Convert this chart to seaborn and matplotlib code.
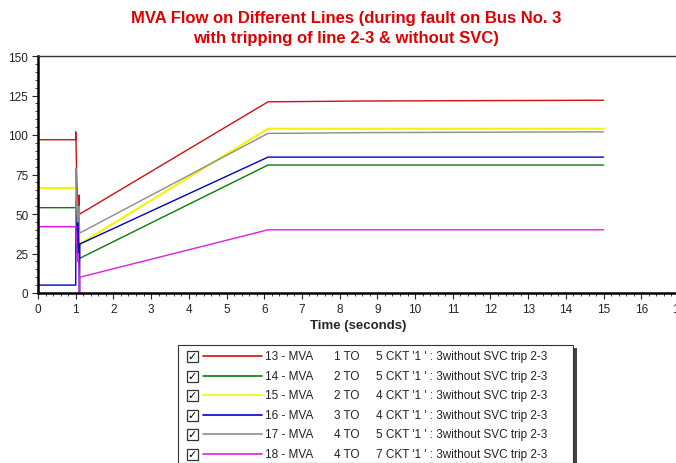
import matplotlib
matplotlib.use("Agg")
import matplotlib.pyplot as plt
from matplotlib.patches import Rectangle
from matplotlib.lines import Line2D
from matplotlib.ticker import MultipleLocator
import seaborn as sns

sns.set_theme(style="white")
plt.rcParams["font.family"] = ["Liberation Sans", "DejaVu Sans"]

# Simulation time samples (s): pre-fault, fault on bus 3, clearing, recovery ramp, steady state
time_s = [0.0, 1.0, 1.0, 1.01, 1.03, 1.05, 1.07, 1.09, 1.10, 1.11, 6.1, 8.6, 15.0]

mva_13 = [97, 97, 102, 93, 70, 60, 55, 62, 50, 50, 121, 121.5, 122]
mva_14 = [54, 54, 54, 50, 40, 30, 25, 35, 22, 22, 81, 81, 81]
mva_15 = [66.5, 66.5, 66.5, 60, 50, 40, 35, 38, 30, 31, 104, 104, 104]
mva_16 = [5, 5, 5, 58, 40, 25, 45, 20, 0, 31, 86, 86, 86]
mva_17 = [42, 42, 42, 79, 62, 45, 50, 55, 40, 38, 101, 101.5, 102]
mva_18 = [42, 42, 42, 40, 30, 20, 25, 15, 0, 10, 40, 40, 40]

series_ids = ["13 - MVA", "14 - MVA", "15 - MVA", "16 - MVA", "17 - MVA", "18 - MVA"]
from_bus = ["1 TO", "2 TO", "2 TO", "3 TO", "4 TO", "4 TO"]
to_desc = ["5 CKT '1 ' : 3without SVC trip 2-3",
           "5 CKT '1 ' : 3without SVC trip 2-3",
           "4 CKT '1 ' : 3without SVC trip 2-3",
           "4 CKT '1 ' : 3without SVC trip 2-3",
           "5 CKT '1 ' : 3without SVC trip 2-3",
           "7 CKT '1 ' : 3without SVC trip 2-3"]
colors = ["#d01010", "#0a7a0a", "#f5f500", "#0000c8", "#8c8c8c", "#e020e0"]

series = [mva_13, mva_14, mva_15, mva_16, mva_17, mva_18]
x_ticks = list(range(0, 18))
y_ticks = [0, 25, 50, 75, 100, 125, 150]

fig = plt.figure(figsize=(6.76, 4.64), dpi=100)
ax = fig.add_axes([38 / 676, 170 / 464, 641 / 676, 237 / 464])

for vals, col in zip(series, colors):
    lw = 1.5 if col == "#f5f500" else 1.0
    sns.lineplot(x=time_s, y=vals, ax=ax, color=col, lw=lw,
                 estimator=None, sort=False)

ax.set_xlim(0, 17)
ax.set_ylim(0, 150)
ax.set_xticks(x_ticks)
ax.set_yticks(y_ticks)
ax.xaxis.set_minor_locator(MultipleLocator(0.2))
ax.yaxis.set_minor_locator(MultipleLocator(5))
ax.tick_params(axis="both", which="major", direction="out", length=4, width=0.8,
               labelsize=8.5, colors="#222222", pad=3, bottom=True, left=True)
ax.tick_params(axis="both", which="minor", direction="out", length=2, width=0.6,
               colors="#222222", bottom=True, left=True)
ax.set_xlabel("Time (seconds)", fontsize=9.5, fontweight="bold", labelpad=3)
ax.set_ylabel("")
for side in ["left", "bottom"]:
    ax.spines[side].set_linewidth(1.8)
    ax.spines[side].set_color("black")
ax.spines["top"].set_linewidth(1.0)
ax.spines["top"].set_color("#333333")
ax.spines["right"].set_visible(False)

fig.text(346 / 676, 1 - 18 / 464, "MVA Flow on Different Lines (during fault on Bus No. 3",
         ha="center", va="center", color="#e00000", fontsize=12, fontweight="bold")
fig.text(346 / 676, 1 - 39 / 464, "with tripping of line 2-3 & without SVC)",
         ha="center", va="center", color="#e00000", fontsize=12, fontweight="bold")

# Legend panel with check boxes
lg = fig.add_axes([0, 0, 1, 1], facecolor="none")
lg.set_xlim(0, 676)
lg.set_ylim(464, 0)
lg.axis("off")
lg.add_patch(Rectangle((181, 349), 396, 118, facecolor="#444444", edgecolor="none"))
lg.add_patch(Rectangle((178, 346), 395, 118, facecolor="white", edgecolor="#333333", lw=0.8))

row_y = [357, 377, 396, 416, 435, 455]
for y, sid, fb, td, col in zip(row_y, series_ids, from_bus, to_desc, colors):
    lg.add_patch(Rectangle((187, y - 5.5), 11, 11, facecolor="white", edgecolor="#333333", lw=0.9))
    lg.text(192.5, y + 0.5, "\u2713", ha="center", va="center", fontsize=8,
            family="DejaVu Sans", fontweight="bold", color="black")
    lg.add_line(Line2D([203, 262], [y, y], color=col, lw=1.2))
    lg.text(265, y, sid, ha="left", va="center", fontsize=8.5, color="#222222")
    lg.text(334, y, fb, ha="left", va="center", fontsize=8.5, color="#222222")
    lg.text(376, y, td, ha="left", va="center", fontsize=8.5, color="#222222")

fig.savefig("out.png", dpi=100)
